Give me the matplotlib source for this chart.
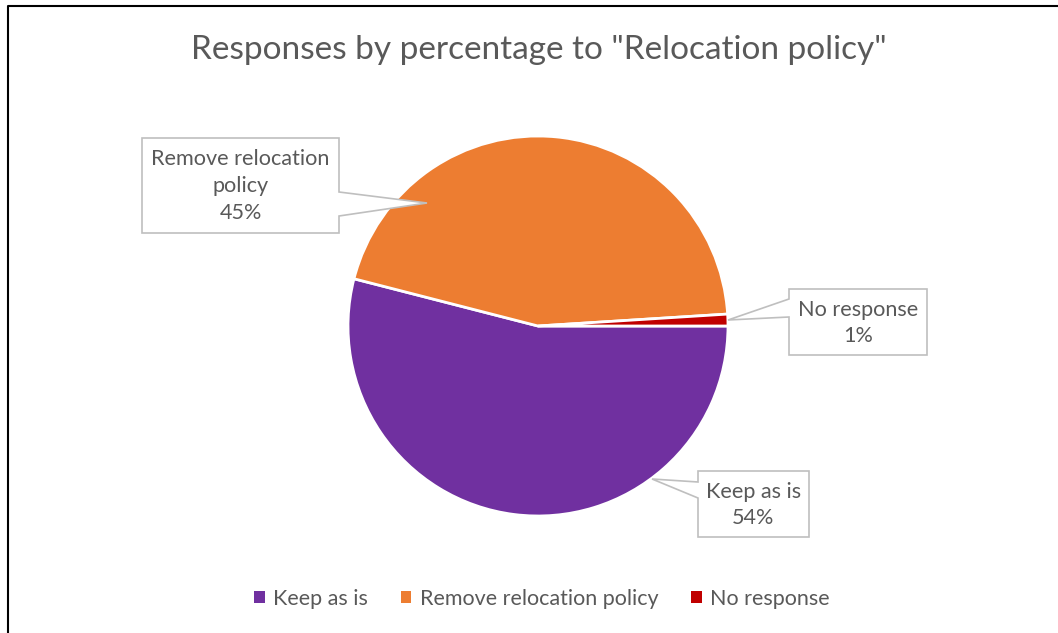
import matplotlib.pyplot as plt
from matplotlib.patches import Patch, Polygon
from matplotlib.lines import Line2D

labels = ["Keep as is", "Remove relocation policy", "No response"]
box_labels = ["Keep as is", "Remove relocation\npolicy", "No response"]
values = [54, 45, 1]
colors = ["#7030A0", "#ED7D31", "#C00000"]

W, H = 1058, 633
plt.rcParams["font.family"] = ["Lato", "DejaVu Sans"]
text_color = "#595959"

fig = plt.figure(figsize=(W / 100, H / 100), dpi=100)


def fx(x):
    return x / W


def fy(y):
    return 1 - y / H


# pie area
ax = fig.add_axes([fx(348), fy(516), 380 / W, 380 / H])
ax.pie(values, colors=colors, startangle=0, counterclock=False, radius=1,
       wedgeprops=dict(edgecolor="white", linewidth=2))
ax.set_xlim(-1, 1)
ax.set_ylim(-1, 1)
ax.set_aspect("equal")
ax.axis("off")

fig.text(fx(539), fy(50), 'Responses by percentage to "Relocation policy"',
         ha="center", va="center", fontsize=24, color=text_color)

# callout shapes (pixel coords, y from top)
callouts = [
    dict(pts=[(698, 471), (809, 471), (809, 537), (698, 537), (698, 498), (652, 479), (698, 482)],
         center=(753.5, 505)),
    dict(pts=[(142, 138), (339, 138), (339, 192), (427, 203), (339, 216), (339, 233), (142, 233)],
         center=(240.5, 186)),
    dict(pts=[(789, 289), (927, 289), (927, 355), (789, 355), (789, 317), (728, 320), (789, 299)],
         center=(858, 323)),
]
for c, lab, v in zip(callouts, box_labels, values):
    poly = Polygon([(fx(x), fy(y)) for x, y in c["pts"]], closed=True,
                   transform=fig.transFigure, facecolor="white",
                   edgecolor="#BFBFBF", linewidth=1.2, zorder=5)
    fig.add_artist(poly)
    fig.text(fx(c["center"][0]), fy(c["center"][1]), f"{lab}\n{v}%",
             ha="center", va="center", fontsize=15.6, color=text_color,
             linespacing=1.42, zorder=6)

handles = [Patch(facecolor=col, edgecolor="none") for col in colors]
fig.legend(handles, labels, loc="center", bbox_to_anchor=(fx(542), fy(599)),
           ncol=3, frameon=False, fontsize=15.5, labelcolor=text_color,
           handlelength=0.5, handleheight=0.5, handletextpad=0.4,
           columnspacing=1.5)

# chart frame
fig.add_artist(Line2D([fx(8), fx(8), fx(1058)], [fy(633), fy(6), fy(6)],
                      transform=fig.transFigure, color="black", linewidth=1.5))

fig.savefig("out.png", dpi=100)
